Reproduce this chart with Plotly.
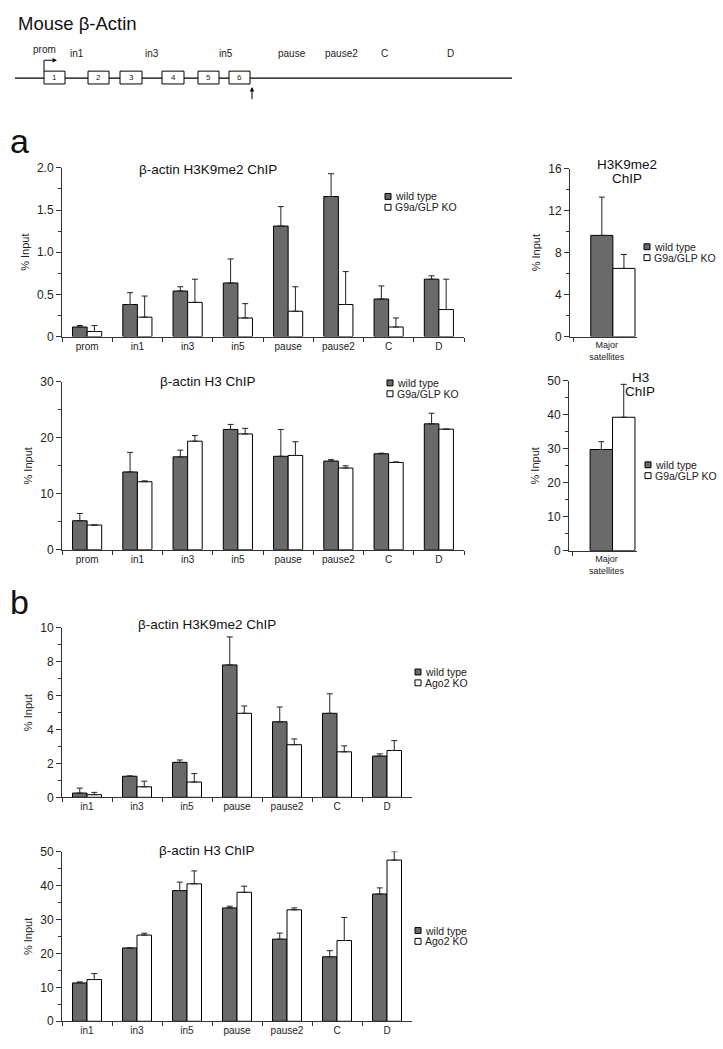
import plotly.graph_objects as go

W, H = 723, 1049
FONT = "Liberation Sans, Arial, sans-serif"
GRAY = "#6a6a6a"
LINE = "#333333"

# ---------------- data ----------------
cats_a = ["prom", "in1", "in3", "in5", "pause", "pause2", "C", "D"]
a1_wt = [0.113, 0.38, 0.54, 0.635, 1.31, 1.66, 0.445, 0.68]
a1_wt_sd = [0.017, 0.14, 0.05, 0.285, 0.23, 0.27, 0.155, 0.04]
a1_ko = [0.06, 0.23, 0.405, 0.22, 0.30, 0.38, 0.113, 0.32]
a1_ko_sd = [0.07, 0.25, 0.275, 0.17, 0.29, 0.39, 0.107, 0.36]

a2_wt = [5.17, 13.9, 16.6, 21.5, 16.7, 15.85, 17.15, 22.5]
a2_wt_sd = [1.29, 3.5, 1.2, 0.9, 4.8, 0.25, 0.11, 1.9]
a2_ko = [4.4, 12.15, 19.4, 20.7, 16.85, 14.6, 15.6, 21.55]
a2_ko_sd = [0.0, 0.15, 1.0, 1.0, 2.45, 0.4, 0.1, 0.0]

cats_sat = ["Major<br>satellites"]
a3_wt = [9.65]
a3_wt_sd = [3.65]
a3_ko = [6.5]
a3_ko_sd = [1.33]

a4_wt = [29.8]
a4_wt_sd = [2.3]
a4_ko = [39.3]
a4_ko_sd = [9.7]

cats_b = ["in1", "in3", "in5", "pause", "pause2", "C", "D"]
b1_wt = [0.25, 1.24, 2.06, 7.8, 4.45, 4.95, 2.43]
b1_wt_sd = [0.29, 0.02, 0.14, 1.65, 0.87, 1.15, 0.13]
b1_ko = [0.155, 0.62, 0.9, 4.95, 3.1, 2.68, 2.76]
b1_ko_sd = [0.135, 0.33, 0.5, 0.43, 0.34, 0.35, 0.58]

b2_wt = [11.3, 21.6, 38.5, 33.4, 24.2, 19.0, 37.5]
b2_wt_sd = [0.3, 0.0, 2.5, 0.5, 1.8, 1.8, 1.8]
b2_ko = [12.3, 25.4, 40.5, 38.0, 32.85, 23.8, 47.5]
b2_ko_sd = [1.75, 0.55, 3.8, 1.8, 0.55, 6.8, 2.5]

series_names = ["wild type", "G9a/GLP KO", "Ago2 KO"]

# gene diagram (schematic units)
exon_labels = ["1", "2", "3", "4", "5", "6"]
exon_start = [44, 88, 120, 162, 198, 229]
exon_end = [65, 109, 142, 184, 219, 250]
region_labels = ["prom", "in1", "in3", "in5", "pause", "pause2", "C", "D"]
region_pos = [44, 77, 152, 226, 292, 341, 384, 450]

# ---------------- helpers ----------------
def dx(x0, x1):
    return [x0 / W, x1 / W]

def dy(y0, y1):
    return [1 - y1 / H, 1 - y0 / H]

def px(x):
    return x / W

def py(y):
    return 1 - y / H

fig = go.Figure()

def add_pair(cats, wt, wt_sd, ko, ko_sd, xa, ya, w):
    for vals, sd, col, off in [(wt, wt_sd, GRAY, -w), (ko, ko_sd, "white", 0)]:
        fig.add_trace(go.Bar(
            x=cats, y=vals, width=w, offset=off,
            marker=dict(color=col, line=dict(color="black", width=1)),
            error_y=dict(type="data", array=sd, arrayminus=[0] * len(sd),
                         symmetric=False, color="#222", thickness=1, width=3),
            xaxis=xa, yaxis=ya, showlegend=False, hoverinfo="skip"))

add_pair(cats_a, a1_wt, a1_wt_sd, a1_ko, a1_ko_sd, "x", "y", 0.29)
add_pair(cats_a, a2_wt, a2_wt_sd, a2_ko, a2_ko_sd, "x2", "y2", 0.29)
add_pair(cats_sat, a3_wt, a3_wt_sd, a3_ko, a3_ko_sd, "x3", "y3", 0.33)
add_pair(cats_sat, a4_wt, a4_wt_sd, a4_ko, a4_ko_sd, "x4", "y4", 0.33)
add_pair(cats_b, b1_wt, b1_wt_sd, b1_ko, b1_ko_sd, "x5", "y5", 0.29)
add_pair(cats_b, b2_wt, b2_wt_sd, b2_ko, b2_ko_sd, "x6", "y6", 0.29)

def xax(domain, rng, anchor):
    return dict(domain=domain, range=rng, type="category", showline=True,
                linecolor=LINE, linewidth=1, ticks="outside", ticklen=4,
                tickcolor=LINE, tickson="boundaries", showgrid=False,
                zeroline=False, tickfont=dict(size=10, color="#222", family=FONT),
                anchor=anchor, fixedrange=True)

def yax(domain, rng, tv, tt, minor, anchor):
    return dict(domain=domain, range=rng, tickvals=tv, ticktext=tt,
                showline=True, linecolor=LINE, linewidth=1, ticks="outside",
                ticklen=5, tickcolor=LINE, showgrid=False, zeroline=False,
                minor=dict(dtick=minor, ticks="outside", ticklen=3, tickcolor=LINE,
                           showgrid=False),
                tickfont=dict(size=12, color="#222", family=FONT),
                title=dict(text="% Input", standoff=5,
                           font=dict(size=11, color="#222", family=FONT)),
                anchor=anchor, fixedrange=True)

layout = dict(
    width=W, height=H, margin=dict(l=0, r=0, t=0, b=0),
    paper_bgcolor="white", plot_bgcolor="white", barmode="overlay",
    font=dict(family=FONT, color="#222"), showlegend=False,
)

layout["xaxis"] = xax(dx(62, 464), [-0.5, 7.5], "y")
layout["yaxis"] = yax(dy(163, 334), [0, 2], [0, 0.5, 1, 1.5, 2],
                      ["0", "0.5", "1.0", "1.5", "2.0"], 0.25, "x")
layout["xaxis2"] = xax(dx(62, 464), [-0.5, 7.5], "y2")
layout["yaxis2"] = yax(dy(380, 550), [0, 30], [0, 10, 20, 30],
                       ["0", "10", "20", "30"], 5, "x2")
layout["xaxis3"] = xax(dx(570, 637), [-0.55, 0.45], "y3")
layout["xaxis3"]["tickfont"]["size"] = 9
layout["yaxis3"] = yax(dy(164, 334), [0, 16], [0, 4, 8, 12, 16],
                       ["0", "4", "8", "12", "16"], 2, "x3")
layout["xaxis4"] = xax(dx(569, 637), [-0.55, 0.45], "y4")
layout["xaxis4"]["tickfont"]["size"] = 9
layout["yaxis4"] = yax(dy(379, 551), [0, 50], [0, 10, 20, 30, 40, 50],
                       ["0", "10", "20", "30", "40", "50"], 5, "x4")
layout["xaxis5"] = xax(dx(62, 412), [-0.5, 6.5], "y5")
layout["yaxis5"] = yax(dy(629, 801), [0, 10], [0, 2, 4, 6, 8, 10],
                       ["0", "2", "4", "6", "8", "10"], 1, "x5")
layout["xaxis6"] = xax(dx(62, 412), [-0.5, 6.5], "y6")
layout["yaxis6"] = yax(dy(856, 1028), [0, 50], [0, 10, 20, 30, 40, 50],
                       ["0", "10", "20", "30", "40", "50"], 5, "x6")
# schematic axes (hidden), units = pixels of the diagram area
layout["xaxis7"] = dict(domain=[0, 1], range=[0, W], visible=False, anchor="y7", fixedrange=True)
layout["yaxis7"] = dict(domain=dy(0, 120), range=[120, 0], visible=False, anchor="x7", fixedrange=True)

fig.update_layout(**layout)
fig.add_trace(go.Scatter(x=[None], y=[None], xaxis="x7", yaxis="y7", showlegend=False))

# shift the single-category bar pairs so the pair sits right of the label like the source
for tr in fig.data:
    if tr.xaxis in ("x3", "x4"):
        tr.offset = tr.offset + 0.09

shapes = []
annotations = []

# ---- diagram ----
shapes.append(dict(type="line", xref="x7", yref="y7", x0=15, x1=512, y0=72, y1=72,
                   line=dict(color="black", width=1.3)))
for lab, s, e in zip(exon_labels, exon_start, exon_end):
    shapes.append(dict(type="rect", xref="x7", yref="y7", x0=s, x1=e, y0=65, y1=78,
                       fillcolor="white", line=dict(color="black", width=1)))
    annotations.append(dict(xref="x7", yref="y7", x=(s + e) / 2, y=71.5, text=lab,
                            showarrow=False, font=dict(size=8, color="#222")))
for lab, p in zip(region_labels, region_pos):
    annotations.append(dict(xref="x7", yref="y7", x=p, y=43 if lab == "prom" else 47,
                            text=lab, showarrow=False, font=dict(size=10, color="#222")))
shapes.append(dict(type="path", xref="x7", yref="y7", path="M 44 65 L 44 54 L 52 54",
                   line=dict(color="black", width=1)))
annotations.append(dict(xref="x7", yref="y7", axref="x7", ayref="y7", x=57, y=54,
                        ax=51, ay=54, text="", showarrow=True, arrowhead=2,
                        arrowsize=0.9, arrowwidth=1, arrowcolor="black"))
annotations.append(dict(xref="x7", yref="y7", axref="x7", ayref="y7", x=252, y=81,
                        ax=252, ay=95, text="", showarrow=True, arrowhead=2,
                        arrowsize=0.9, arrowwidth=1, arrowcolor="black"))
annotations.append(dict(xref="paper", yref="paper", x=px(16), y=py(17), text="Mouse β-Actin",
                        showarrow=False, xanchor="left", yanchor="middle",
                        font=dict(size=18.5, color="#111")))

# ---- panel labels ----
annotations.append(dict(xref="paper", yref="paper", x=px(8), y=py(136), text="a",
                        showarrow=False, xanchor="left", yanchor="middle",
                        font=dict(size=34, color="#111")))
annotations.append(dict(xref="paper", yref="paper", x=px(8), y=py(603), text="b",
                        showarrow=False, xanchor="left", yanchor="middle",
                        font=dict(size=34, color="#111")))

# ---- chart titles ----
titles = [
    ("β-actin H3K9me2 ChIP", 208, 165),
    ("β-actin H3 ChIP", 208, 380),
    ("H3K9me2", 627, 160),
    ("ChIP", 627, 174),
    ("H3", 640, 376),
    ("ChIP", 640, 390),
    ("β-actin H3K9me2 ChIP", 207, 626),
    ("β-actin H3 ChIP", 207, 855),
]
for t, x, y in titles:
    annotations.append(dict(xref="paper", yref="paper", x=px(x), y=py(y), text=t,
                            showarrow=False, xanchor="center", yanchor="middle",
                            font=dict(size=13.5, color="#111")))

# ---- legends (swatches + text) ----
legends = [
    (385, 192, series_names[0], series_names[1]),
    (387, 381, series_names[0], series_names[1]),
    (644, 243, series_names[0], series_names[1]),
    (645, 464, series_names[0], series_names[1]),
    (415, 674, series_names[0], series_names[2]),
    (415, 936, series_names[0], series_names[2]),
]
for x, y, n1, n2 in legends:
    for k, (name, col) in enumerate([(n1, GRAY), (n2, "white")]):
        yy = y + 11 * k
        shapes.append(dict(type="rect", xref="paper", yref="paper",
                           x0=px(x), x1=px(x + 6), y0=py(yy + 3), y1=py(yy - 3),
                           fillcolor=col, line=dict(color="black", width=1)))
        annotations.append(dict(xref="paper", yref="paper", x=px(x + 8), y=py(yy),
                                text=name, showarrow=False, xanchor="left",
                                yanchor="middle", font=dict(size=10.5, color="#222")))

fig.update_layout(shapes=shapes, annotations=annotations)
fig.write_html("out.html", config={"displayModeBar": False},
               post_script="document.body.style.margin='0';document.body.style.overflow='hidden';")
